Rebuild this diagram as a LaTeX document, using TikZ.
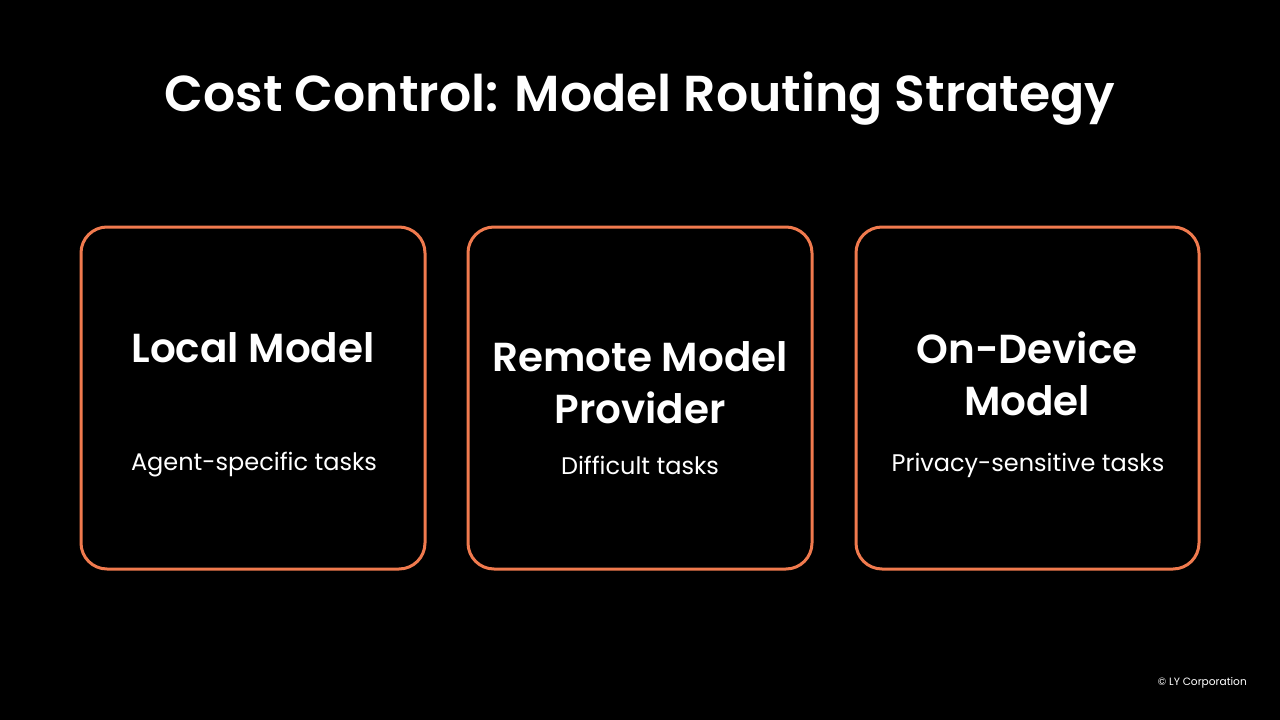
\documentclass[tikz,border=0pt]{standalone}
\usepackage{fontspec}
\setmainfont{Poppins}[BoldFont={Poppins SemiBold}]
\definecolor{accent}{HTML}{F07A4E}
\begin{document}
\begin{tikzpicture}[x=1pt,y=-1pt,
  card/.style={draw=accent, line width=3pt, rounded corners=26pt},
  head/.style={text=white, font=\fontsize{40.5}{52}\selectfont\bfseries, align=center},
  sub/.style={text=white, font=\fontsize{24}{28}\selectfont},
  ]
\fill[black] (0,0) rectangle (1280,720);
\useasboundingbox (0,0) rectangle (1280,720);
\node[text=white, font=\fontsize{50.5}{60}\selectfont\bfseries] (title) at (640,99) {Cost Control: Model Routing Strategy};
\draw[card] (81,227) rectangle (425,569);
\draw[card] (468,227) rectangle (812,569);
\draw[card] (856,227) rectangle (1199,569);
\node[head] (h1) at (253,348) {Local Model};
\node[head] (h2) at (640,383) {Remote Model\\Provider};
\node[head] (h3) at (1027,374) {On-Device\\Model};
\node[sub] (s1) at (254,465) {Agent-specific tasks};
\node[sub] (s2) at (640,465) {Difficult tasks};
\node[sub] (s3) at (1028,465) {Privacy-sensitive tasks};
\node[text=white, font=\fontsize{10.6}{13}\selectfont, anchor=east, inner sep=0pt] (foot) at (1247,683) {© LY Corporation};
\end{tikzpicture}
\end{document}
